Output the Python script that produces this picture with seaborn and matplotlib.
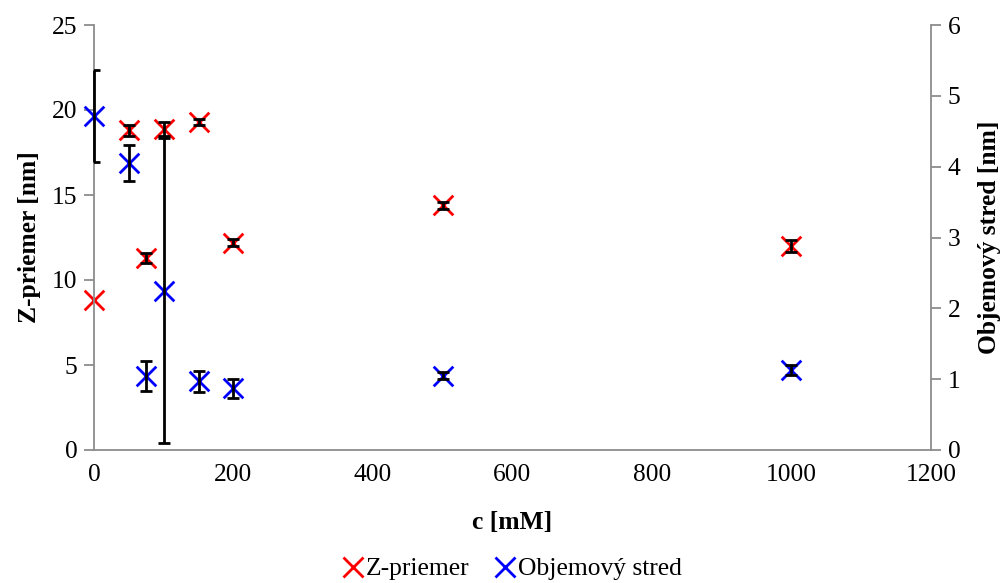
import matplotlib
matplotlib.use("Agg")
import matplotlib.pyplot as plt
import seaborn as sns
import pandas as pd
from matplotlib.lines import Line2D

c_vals = [0, 50, 75, 100, 150, 200, 500, 1000]
z_priemer = [8.8, 18.8, 11.3, 18.9, 19.3, 12.2, 14.4, 12.0]
z_err = [0.0, 0.3, 0.3, 0.4, 0.2, 0.2, 0.2, 0.35]
obj_stred = [4.72, 4.05, 1.05, 2.25, 0.97, 0.87, 1.05, 1.13]
obj_err = [0.65, 0.25, 0.21, 2.15, 0.15, 0.13, 0.05, 0.07]

df = pd.DataFrame({"c": c_vals, "z": z_priemer, "zerr": z_err,
                   "o": obj_stred, "oerr": obj_err})

sns.set_style("white")
plt.rcParams['font.family'] = ['Liberation Serif', 'DejaVu Serif']
plt.rcParams['text.color'] = 'black'
plt.rcParams['axes.labelcolor'] = 'black'
fs = 18.4
plt.rcParams['font.size'] = fs

fig = plt.figure(figsize=(10.03, 5.83), dpi=100)
ax = fig.add_axes([94/1003, 1 - 450/583, (931-94)/1003, (450-25)/583])
ax2 = ax.twinx()

gray = '#8c8c8c'
ms = 200
# left series
dz = df[df["zerr"] > 0]
eb1 = ax.errorbar(dz["c"], dz["z"], yerr=dz["zerr"], fmt='none', ecolor='black',
                  elinewidth=2, capsize=4, capthick=2, zorder=3)
sns.scatterplot(data=df, x="c", y="z", ax=ax, marker='x', color='red',
                s=ms, linewidth=2, zorder=2, legend=False, clip_on=False)
# right series
do = df[df["oerr"] > 0]
eb2 = ax2.errorbar(do["c"], do["o"], yerr=do["oerr"], fmt='none', ecolor='black',
                   elinewidth=2, capsize=4, capthick=2, zorder=3)
sns.scatterplot(data=df, x="c", y="o", ax=ax2, marker='x', color='blue',
                s=ms, linewidth=2, zorder=2, legend=False, clip_on=False)
for eb in (eb1, eb2):
    for art in eb.lines[2]:
        art.set_clip_on(False)

ax.set_xlim(0, 1200)
ax.set_ylim(0, 25)
ax2.set_ylim(0, 6)
ax.set_xticks(range(0, 1201, 200))
ax.set_yticks(range(0, 26, 5))
ax2.set_yticks(range(0, 7, 1))

for a in (ax, ax2):
    for s in a.spines.values():
        s.set_color(gray)
        s.set_linewidth(1.3)
    a.spines['top'].set_visible(False)
    a.tick_params(axis='both', direction='out', length=7, width=1.3,
                  color=gray, labelsize=fs, labelcolor='black')
ax.spines['right'].set_visible(False)
ax2.spines['left'].set_visible(False)
ax2.spines['bottom'].set_visible(False)
ax.tick_params(axis='x', pad=3)
ax.tick_params(axis='y', pad=5)
ax2.tick_params(axis='y', pad=5)

ax.set_xlabel("c [mM]", fontsize=fs, fontweight='bold', labelpad=18,
              color='black')
ax.set_ylabel("Z-priemer [nm]", fontsize=fs, fontweight='bold', labelpad=8,
              color='black')
ax2.set_ylabel("Objemový stred [nm]", fontsize=fs, fontweight='bold',
               labelpad=13, rotation=90, color='black')

handles = [Line2D([], [], marker='x', color='red', linestyle='none',
                  markersize=14, markeredgewidth=2),
           Line2D([], [], marker='x', color='blue', linestyle='none',
                  markersize=14, markeredgewidth=2)]
fig.legend(handles, ["Z-priemer", "Objemový stred"], loc='center',
           bbox_to_anchor=(512/1003, 1 - 569/583), ncol=2, frameon=False,
           fontsize=fs, handlelength=0.8, handletextpad=0.1, columnspacing=1.0)

fig.savefig("out.png", dpi=100)
